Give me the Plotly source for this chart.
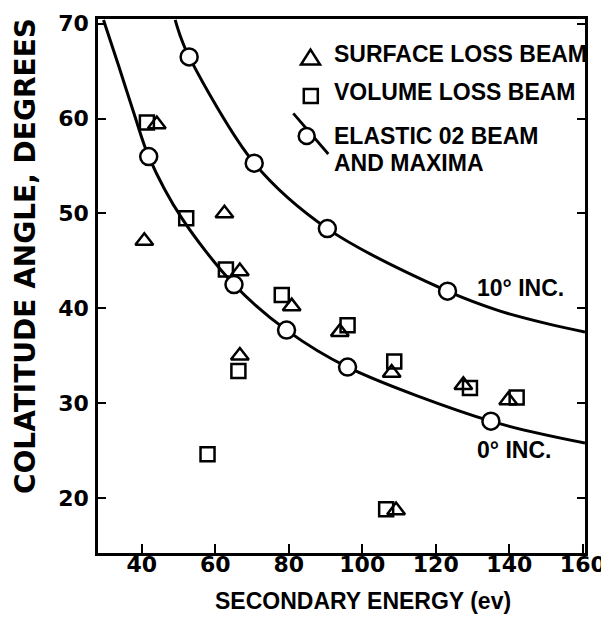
import plotly.graph_objects as go

# ---- data ----
# Surface loss beam (triangles)
surf_x = [44.1, 62.5, 40.7, 66.7, 80.8, 93.9, 66.7, 108.0, 127.5, 139.7, 109.2]
surf_y = [59.4, 50.0, 47.1, 43.9, 40.2, 37.5, 35.0, 33.2, 31.9, 30.3, 18.7]
# Volume loss beam (squares)
vol_x = [41.4, 52.1, 62.9, 78.1, 96.0, 66.3, 108.7, 129.3, 142.0, 57.9, 106.5]
vol_y = [59.6, 49.5, 44.1, 41.4, 38.2, 33.4, 34.4, 31.6, 30.6, 24.6, 18.8]
# Elastic 02 beam maxima (circles)
max10_x = [52.9, 70.6, 90.5, 123.2]
max10_y = [66.5, 55.3, 48.4, 41.8]
max0_x = [41.9, 65.1, 79.4, 96.0, 135.0]
max0_y = [56.0, 42.5, 37.7, 33.8, 28.1]
# Drawn curves
curve10_x = [49.1, 50.4, 52.9, 70.6, 90.5, 123.2, 137.5, 151.1, 160.6]
curve10_y = [70.4, 68.8, 66.5, 55.3, 48.4, 41.8, 39.7, 38.3, 37.5]
curve0_x = [29.6, 33.6, 38.0, 41.9, 50.9, 65.1, 79.4, 96.0, 135.0, 160.6]
curve0_y = [70.4, 65.7, 60.4, 56.0, 49.5, 42.5, 37.7, 33.8, 28.1, 25.8]

x_ticks = [40, 60, 80, 100, 120, 140, 160]
y_ticks = [20, 30, 40, 50, 60, 70]

X_RANGE = [28.1, 160.6]
Y_RANGE = [14.2, 70.5]

# page body adds an 8px margin around the figure
OFF = 8
W, H = 609 - OFF, 626 - OFF
# plot box in window pixels
L, R, T, B = 98, 585, 19, 553

TXT = dict(family="Liberation Sans, Arial, sans-serif", color="black", weight="bold")
NUM = dict(family="DejaVu Sans, sans-serif", color="black", weight="bold")

fig = go.Figure()

line_style = dict(color="black", width=3, shape="spline", smoothing=0.9)
fig.add_trace(go.Scatter(x=curve10_x, y=curve10_y, mode="lines", line=line_style,
                         showlegend=False, hoverinfo="skip"))
fig.add_trace(go.Scatter(x=curve0_x, y=curve0_y, mode="lines", line=line_style,
                         showlegend=False, hoverinfo="skip"))

fig.add_trace(go.Scatter(x=surf_x, y=surf_y, mode="markers", name="SURFACE LOSS BEAM",
                         marker=dict(symbol="triangle-up-open", size=15.5, color="black",
                                     line=dict(color="black", width=2.5)),
                         showlegend=False))
fig.add_trace(go.Scatter(x=vol_x, y=vol_y, mode="markers", name="VOLUME LOSS BEAM",
                         marker=dict(symbol="square-open", size=14, color="black",
                                     line=dict(color="black", width=2.5)),
                         showlegend=False))
circ = dict(symbol="circle", size=17, color="white", line=dict(color="black", width=2.5))
fig.add_trace(go.Scatter(x=max10_x, y=max10_y, mode="markers", marker=circ,
                         name="ELASTIC 02 BEAM AND MAXIMA", showlegend=False))
fig.add_trace(go.Scatter(x=max0_x, y=max0_y, mode="markers", marker=circ,
                         name="ELASTIC 02 BEAM AND MAXIMA", showlegend=False))


def px(xp):
    return (xp - L) / (R - L)


def py(yp):
    return (B - yp) / (B - T)


shapes = []
# legend glyphs (paper coordinates)
tx, ty, tw, th = 310.5, 57.0, 19.0, 15.0
shapes.append(dict(type="path", xref="paper", yref="paper",
                   path=f"M {px(tx - tw/2)} {py(ty + th/2)} L {px(tx + tw/2)} {py(ty + th/2)} "
                        f"L {px(tx)} {py(ty - th/2)} Z",
                   line=dict(color="black", width=2.5), fillcolor="rgba(0,0,0,0)"))
sx, sy, ss = 310.8, 96.0, 14.0
shapes.append(dict(type="rect", xref="paper", yref="paper",
                   x0=px(sx - ss/2), x1=px(sx + ss/2), y0=py(sy + ss/2), y1=py(sy - ss/2),
                   line=dict(color="black", width=2.5), fillcolor="rgba(0,0,0,0)"))
shapes.append(dict(type="line", xref="paper", yref="paper",
                   x0=px(293.3), y0=py(113.3), x1=px(328.3), y1=py(154.0),
                   line=dict(color="black", width=2.8)))
cx, cy, cr = 306.7, 136.0, 8.0
shapes.append(dict(type="circle", xref="paper", yref="paper",
                   x0=px(cx - cr), x1=px(cx + cr), y0=py(cy + cr), y1=py(cy - cr),
                   line=dict(color="black", width=2.5), fillcolor="white"))

ann = []
leg_font = dict(TXT, size=23)
for text, ly in [("SURFACE LOSS BEAM", 54.0), ("VOLUME LOSS BEAM", 92.5),
                 ("ELASTIC 02 BEAM", 136.0), ("AND MAXIMA", 162.5)]:
    ann.append(dict(text=text, xref="paper", yref="paper", x=px(332), y=py(ly),
                    xanchor="left", yanchor="middle", showarrow=False, font=leg_font))

ann.append(dict(text="10° INC.", x=130.7, y=42.15, xref="x", yref="y", xanchor="left",
                yanchor="middle", showarrow=False, font=dict(TXT, size=23)))
ann.append(dict(text="0° INC.", x=130.7, y=25.1, xref="x", yref="y", xanchor="left",
                yanchor="middle", showarrow=False, font=dict(TXT, size=23)))

ann.append(dict(text="SECONDARY ENERGY (ev)", xref="paper", yref="paper",
                x=px(362.5), y=py(601), xanchor="center", yanchor="middle",
                showarrow=False, font=dict(TXT, size=23)))
ann.append(dict(text="COLATITUDE ANGLE, DEGREES", xref="paper", yref="paper",
                x=px(25), y=py(256), xanchor="center", yanchor="middle", textangle=-90,
                showarrow=False, font=dict(NUM, size=28)))

fig.update_layout(
    width=W, height=H,
    margin=dict(l=L - OFF, r=609 - R, t=T - OFF, b=626 - B, pad=0, autoexpand=False),
    paper_bgcolor="white", plot_bgcolor="white",
    showlegend=False,
    shapes=shapes,
    annotations=ann,
)
fig.update_xaxes(range=X_RANGE, tickvals=x_ticks, ticktext=[str(v) for v in x_ticks],
                 showgrid=False, zeroline=False, showline=True, linecolor="black",
                 linewidth=2.5, mirror=True, ticks="inside", ticklen=9, tickwidth=2.2,
                 tickcolor="black", tickfont=dict(NUM, size=22), ticklabelstandoff=-10,
                 automargin=False)
fig.update_yaxes(range=Y_RANGE, tickvals=y_ticks, ticktext=[str(v) for v in y_ticks],
                 showgrid=False, zeroline=False, showline=True, linecolor="black",
                 linewidth=2.5, mirror="ticks", ticks="inside", ticklen=8, tickwidth=2.2,
                 tickcolor="black", tickfont=dict(NUM, size=22), ticklabelstandoff=2,
                 automargin=False)

fig.write_html("out.html")
